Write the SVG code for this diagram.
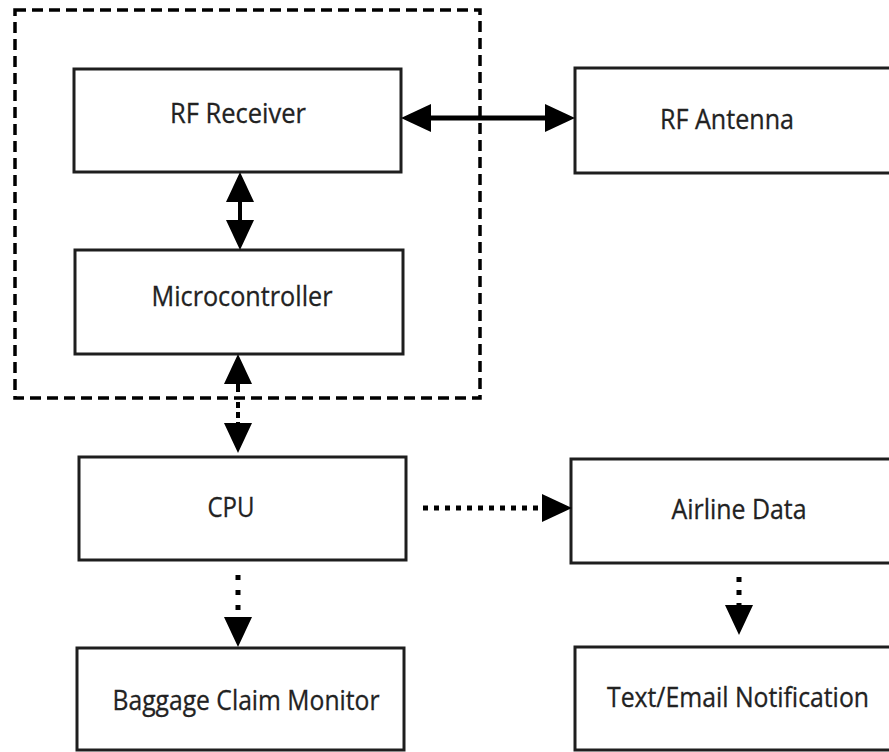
<svg xmlns="http://www.w3.org/2000/svg" width="889" height="752" viewBox="0 0 889 752">
<defs>
<style>
.box{fill:#fff;stroke:#1e1e1e;stroke-width:3}
.lbl{font-family:"Open Sans","Liberation Sans",sans-serif;font-size:27px;fill:#222;stroke:#222;stroke-width:0.3;text-anchor:middle}
.con{fill:none;stroke:#000}
</style>
<marker id="ah" markerUnits="userSpaceOnUse" markerWidth="30" markerHeight="28" viewBox="0 0 30 28" refX="14" refY="14" orient="auto-start-reverse">
<path d="M0,0 L30,14 L0,28 Z" fill="#000"/>
</marker>
</defs>
<rect width="889" height="752" fill="#fff"/>
<rect id="group-boundary" x="15" y="10" width="465" height="388" fill="none" stroke="#000" stroke-width="3.5" stroke-dasharray="11 6"/>
<g id="rf-receiver">
<rect class="box" x="74" y="69" width="327" height="103"/>
<text class="lbl" x="238" y="123" textLength="136" lengthAdjust="spacingAndGlyphs">RF Receiver</text>
</g>
<g id="rf-antenna">
<rect class="box" x="575" y="68" width="330" height="105"/>
<text class="lbl" x="727" y="129" textLength="134" lengthAdjust="spacingAndGlyphs">RF Antenna</text>
</g>
<g id="microcontroller">
<rect class="box" x="75" y="250" width="328" height="104"/>
<text class="lbl" x="242" y="306" textLength="181" lengthAdjust="spacingAndGlyphs">Microcontroller</text>
</g>
<g id="cpu">
<rect class="box" x="79" y="457" width="327" height="103"/>
<text class="lbl" x="231" y="517" textLength="47" lengthAdjust="spacingAndGlyphs">CPU</text>
</g>
<g id="airline-data">
<rect class="box" x="571" y="459" width="334" height="104"/>
<text class="lbl" x="739" y="519" textLength="135" lengthAdjust="spacingAndGlyphs">Airline Data</text>
</g>
<g id="text-email-notification">
<rect class="box" x="575" y="647" width="330" height="103"/>
<text class="lbl" x="738" y="707" textLength="262" lengthAdjust="spacingAndGlyphs">Text/Email Notification</text>
</g>
<g id="baggage-claim-monitor">
<rect class="box" x="77" y="648" width="327" height="102"/>
<text class="lbl" x="246" y="710" textLength="267" lengthAdjust="spacingAndGlyphs">Baggage Claim Monitor</text>
</g>
<g id="connectors">
<line class="con" x1="417" y1="118" x2="559" y2="118" stroke-width="5" marker-start="url(#ah)" marker-end="url(#ah)"/>
<line class="con" x1="240" y1="188" x2="240" y2="234" stroke-width="4" marker-start="url(#ah)" marker-end="url(#ah)"/>
<line class="con" x1="238" y1="370" x2="238" y2="392" stroke-width="4" marker-start="url(#ah)"/>
<line class="con" x1="238" y1="402" x2="238" y2="437" stroke-width="4" stroke-dasharray="6 4" marker-end="url(#ah)"/>
<line class="con" x1="423" y1="508" x2="556" y2="508" stroke-width="5" stroke-dasharray="5 6" marker-end="url(#ah)"/>
<line class="con" x1="739" y1="577" x2="739" y2="619" stroke-width="5" stroke-dasharray="5 8" marker-end="url(#ah)"/>
<line class="con" x1="238" y1="575" x2="238" y2="631" stroke-width="5" stroke-dasharray="5 10" marker-end="url(#ah)"/>
</g>
</svg>
